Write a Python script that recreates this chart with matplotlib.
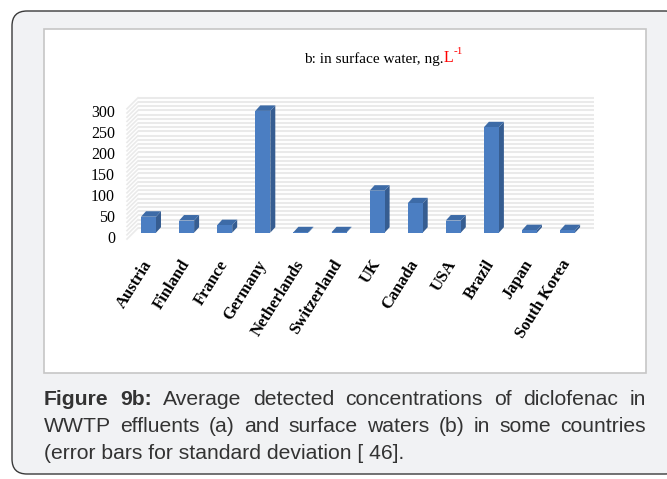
import matplotlib.pyplot as plt
import numpy as np
from matplotlib.patches import FancyBboxPatch, Rectangle, Polygon

countries = ['Austria', 'Finland', 'France', 'Germany', 'Netherlands', 'Switzerland',
             'UK', 'Canada', 'USA', 'Brazil', 'Japan', 'South Korea']
conc = [38, 29, 18, 290, 1, 1, 100, 70, 29, 251, 6, 6]   # ng/L
yticks = [0, 50, 100, 150, 200, 250, 300]

caption = [
    [('Figure', 'bold'), ('9b:', 'bold'), ('Average', 'normal'), ('detected', 'normal'),
     ('concentrations', 'normal'), ('of', 'normal'), ('diclofenac', 'normal'), ('in', 'normal')],
    [(w, 'normal') for w in 'WWTP effluents (a) and surface waters (b) in some countries'.split()],
    [('(error bars for standard deviation [ 46].', 'normal')],
]

W, H = 667, 479
fig = plt.figure(figsize=(W / 100, H / 100), dpi=100)

# page background in pixel units
bg = fig.add_axes([0, 0, 1, 1])
bg.set_xlim(0, W)
bg.set_ylim(H, 0)
bg.axis('off')
bg.add_patch(FancyBboxPatch((12, 11), 668, 463, boxstyle='round,pad=0,rounding_size=15',
                            fc='#f1f2f4', ec='#3a3a3a', lw=1.0))
bg.add_patch(Rectangle((43.5, 28.5), 602.5, 344.5, fc='white', ec='#c6c6c6', lw=1.2))

# chart title
serif = 'Liberation Serif'
t1 = bg.text(304, 63, 'b: in surface water, ng.', family=serif, fontsize=11, va='baseline')
t2 = bg.annotate('L', xy=(1, 0), xycoords=t1, va='bottom', family=serif, fontsize=11.5,
                 color='red')
bg.annotate('-1', xy=(1, 1), xycoords=t2, va='top', family=serif, fontsize=8,
            color='red', xytext=(0, 2), textcoords='offset points')

# caption, first two lines justified
fig.canvas.draw()
rend = fig.canvas.get_renderer()
x0, x1 = 44, 646
baselines = [405, 432, 459]
for li, (words, yb) in enumerate(zip(caption, baselines)):
    arts = [bg.text(0, yb, w, family='Liberation Sans', fontsize=15.2, fontweight=fw,
                    color='#333333', va='baseline') for w, fw in words]
    widths = [a.get_window_extent(rend).width for a in arts]
    if li < 2 and len(arts) > 1:
        gap = (x1 - x0 - sum(widths)) / (len(arts) - 1)
    else:
        gap = 0
    x = x0
    for a, w in zip(arts, widths):
        a.set_x(x)
        x += w + gap

# chart axes: category i centred at px 148.5 + 38.1 i, value 0 at px 232.7, 0.42 px per ng/L
px_x0, px_dx = 148.5, 38.1
py_0, py_k = 232.7, 0.42
L, R, T, B = 100, 620, 85, 250
ax = fig.add_axes([L / W, 1 - B / H, (R - L) / W, (B - T) / H])
ax.set_xlim((L - px_x0) / px_dx, (R - px_x0) / px_dx)
ax.set_ylim((py_0 - B) / py_k, (py_0 - T) / py_k)
ax.axis('off')
ax.patch.set_alpha(0)

# back wall and side wall gridlines
wall_dy = 4.7 / py_k
for v in range(0, 320, 10):
    y = v + wall_dy
    ax.plot([(138 - px_x0) / px_dx, (594 - px_x0) / px_dx], [y, y], color='#eaeaea', lw=1.5,
            solid_capstyle='butt', zorder=1)
    ax.plot([(127 - px_x0) / px_dx, (138 - px_x0) / px_dx], [y - 11 / py_k, y],
            color='#eaeaea', lw=1.2, zorder=1)

# 3D columns
bw = 15 / px_dx
ddx, ddy = 5 / px_dx, 5.5 / py_k
for i, v in enumerate(conc):
    xl, xr = i - bw / 2, i + bw / 2
    ax.add_patch(Polygon([(xr, 0), (xr + ddx, ddy), (xr + ddx, v + ddy), (xr, v)],
                         fc='#365d91', ec='none', zorder=3))
    ax.add_patch(Polygon([(xl, v), (xr, v), (xr + ddx, v + ddy), (xl + ddx, v + ddy)],
                         fc='#3d6ba7', ec='none', zorder=3))
    ax.add_patch(Rectangle((xl, 0), bw, v, fc='#4b7ec2', ec='none', zorder=4))

# value axis labels
for v in yticks:
    ax.text((115 - px_x0) / px_dx, v - 15, str(v), family=serif, fontsize=11.5,
            ha='right', va='center')

# category labels
for i, c in enumerate(countries):
    ax.text(i - 0.18, (py_0 - 257) / py_k, c, family=serif, fontsize=12, fontweight='bold',
            rotation=58, rotation_mode='anchor', ha='right', va='top')

fig.savefig('out.png', dpi=100)
